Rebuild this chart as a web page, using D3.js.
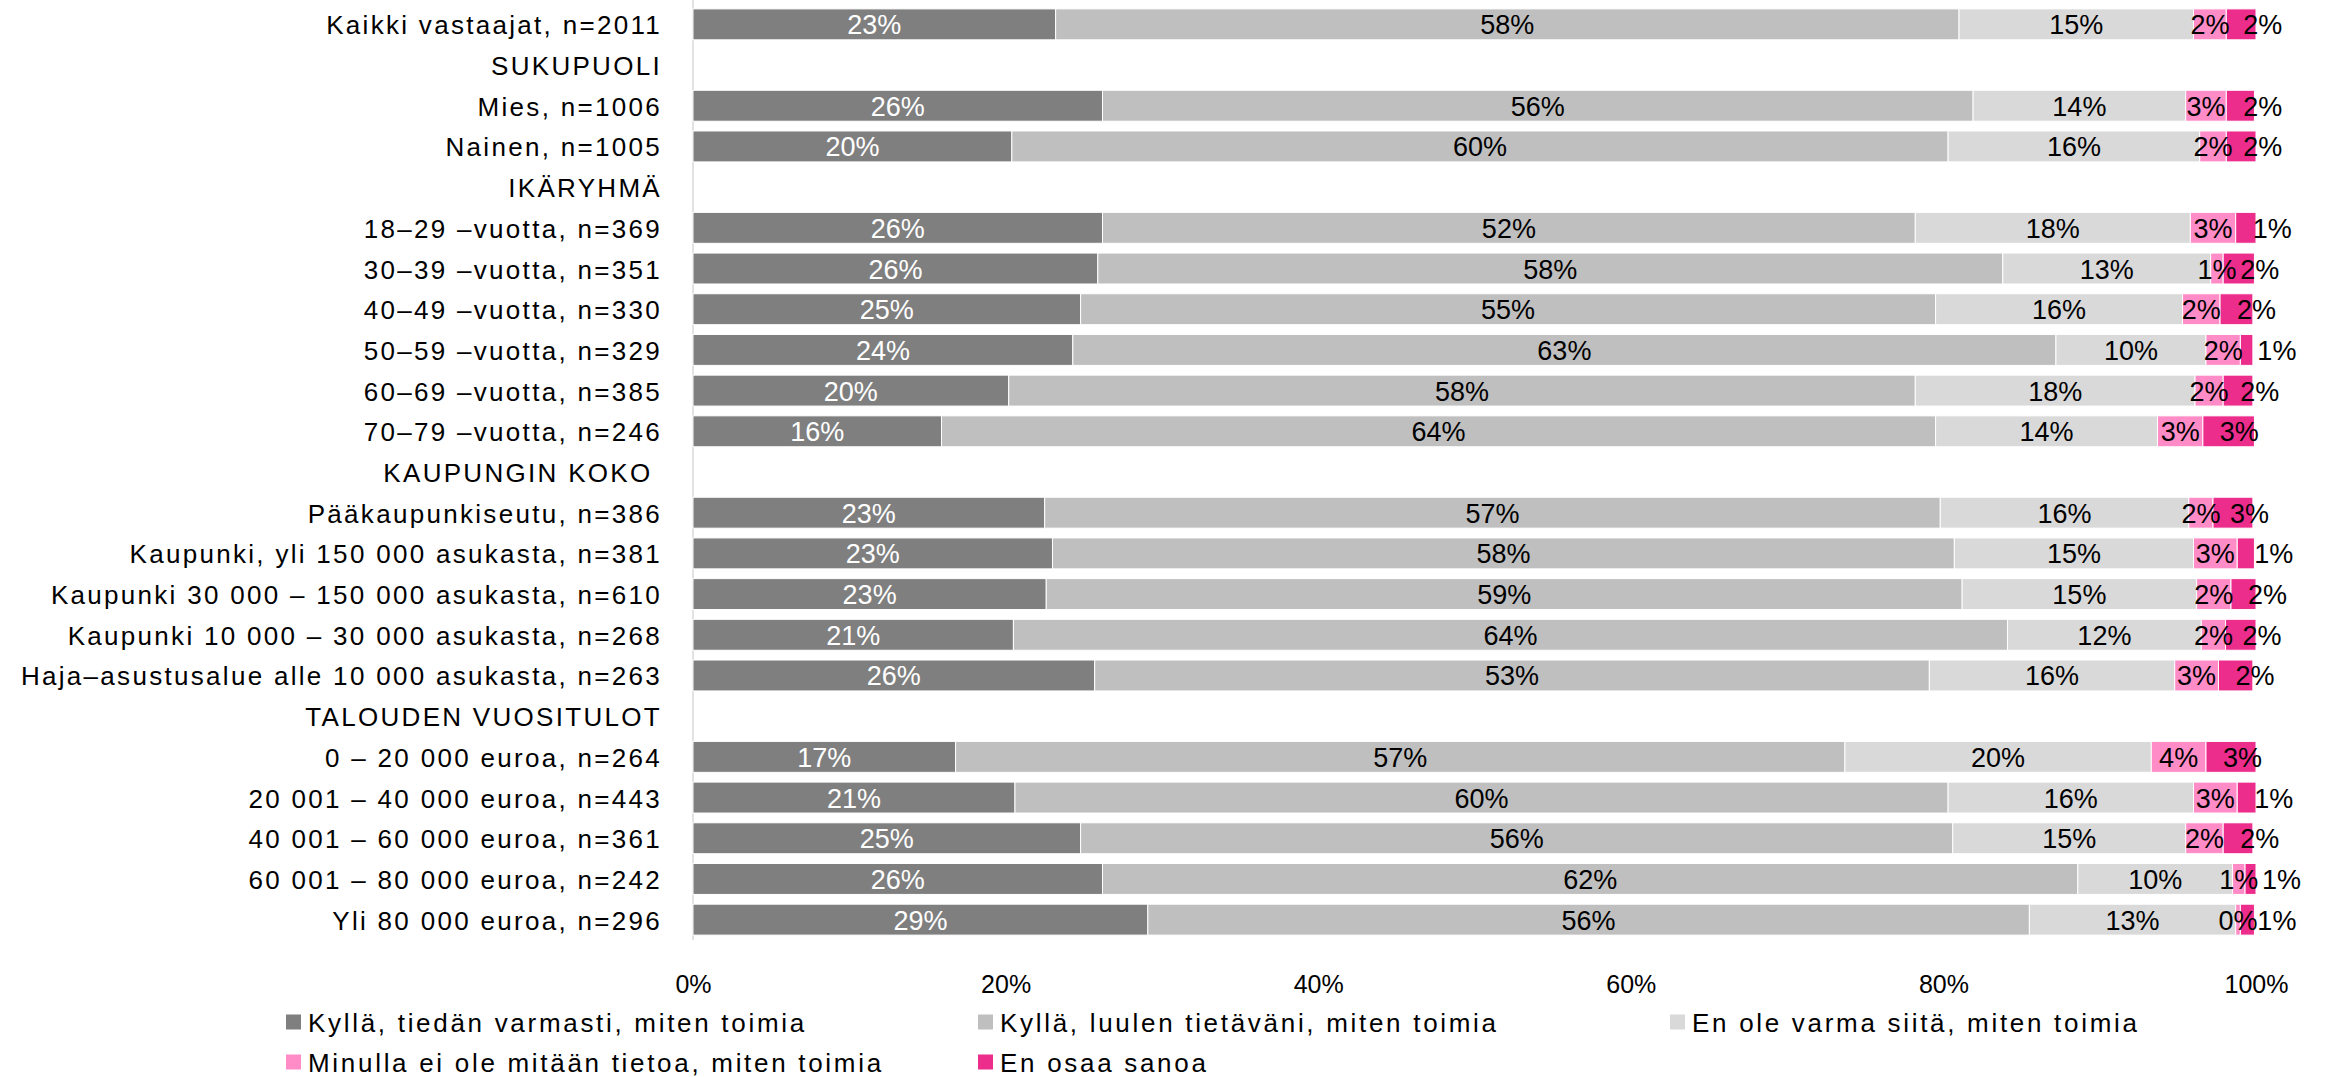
<!DOCTYPE html>
<html><head><meta charset="utf-8">
<script src="https://cdn.jsdelivr.net/npm/d3@7"></script>
<style>
body{margin:0;background:#fff}
svg text{font-family:"Liberation Sans",Arial,sans-serif;fill:#000}
</style>
</head><body>
<svg id="chart" width="2326" height="1077"></svg>
<script>
const categories = [
  "Kaikki vastaajat, n=2011",
  "SUKUPUOLI",
  "Mies, n=1006",
  "Nainen, n=1005",
  "IKÄRYHMÄ",
  "18–29 –vuotta, n=369",
  "30–39 –vuotta, n=351",
  "40–49 –vuotta, n=330",
  "50–59 –vuotta, n=329",
  "60–69 –vuotta, n=385",
  "70–79 –vuotta, n=246",
  "KAUPUNGIN KOKO ",
  "Pääkaupunkiseutu, n=386",
  "Kaupunki, yli 150 000 asukasta, n=381",
  "Kaupunki 30 000 – 150 000 asukasta, n=610",
  "Kaupunki 10 000 – 30 000 asukasta, n=268",
  "Haja–asustusalue alle 10 000 asukasta, n=263",
  "TALOUDEN VUOSITULOT",
  "0 – 20 000 euroa, n=264",
  "20 001 – 40 000 euroa, n=443",
  "40 001 – 60 000 euroa, n=361",
  "60 001 – 80 000 euroa, n=242",
  "Yli 80 000 euroa, n=296"
];
const seriesNames = [
  "Kyllä, tiedän varmasti, miten toimia",
  "Kyllä, luulen tietäväni, miten toimia",
  "En ole varma siitä, miten toimia",
  "Minulla ei ole mitään tietoa, miten toimia",
  "En osaa sanoa"
];
// values in %, null = section header row
const tiedanVarmasti = [23.2,null,26.2,20.4,null,26.2,25.9,24.8,24.3,20.2,15.9,null,22.5,23.0,22.6,20.5,25.7,null,16.8,20.6,24.8,26.2,29.1];
const luulenTietavani = [57.8,null,55.7,59.9,null,52.0,57.9,54.7,62.9,58.0,63.6,null,57.3,57.7,58.6,63.6,53.4,null,56.9,59.7,55.8,62.4,56.4];
const enOleVarma     = [15.0,null,13.6,16.1,null,17.6,13.3,15.8,9.6,17.9,14.2,null,15.9,15.3,15.0,12.4,15.7,null,19.6,15.7,14.9,9.9,13.2];
const eiTietoa       = [2.1,null,2.6,1.7,null,2.9,0.8,2.4,2.2,1.8,2.9,null,1.55,2.8,2.2,1.55,2.8,null,3.5,2.8,2.4,0.8,0.3];
const enOsaaSanoa    = [1.9,null,1.8,1.9,null,1.3,2.0,2.1,0.8,1.9,3.3,null,2.55,1.1,1.6,1.95,2.2,null,3.2,1.2,1.9,0.7,0.9];
const tickValues = [0,20,40,60,80,100];
const tickLabels = ["0%","20%","40%","60%","80%","100%"];
const colors = ["#7f7f7f","#bfbfbf","#d9d9d9","#ff8cc6","#ec2d8c"];

const seriesValues = [tiedanVarmasti, luulenTietavani, enOleVarma, eiTietoa, enOsaaSanoa];
const svg = d3.select("#chart");
const x = d3.scaleLinear().domain([0,100]).range([693,2256]);
const y = d3.scaleBand().domain(d3.range(categories.length)).range([4,940]).paddingInner(0.24).paddingOuter(0.12);
const bw = y.bandwidth();

const table = categories.map((c,i)=>{
  const o = {idx:i, cat:c, header: tiedanVarmasti[i]==null};
  seriesNames.forEach((k,j)=>{ o[k] = seriesValues[j][i] == null ? 0 : seriesValues[j][i]; });
  return o;
});
const rows = table.filter(d=>!d.header);
const stacked = d3.stack().keys(seriesNames)(rows);

// vertical axis line
svg.append("line").attr("x1",x(0)).attr("x2",x(0)).attr("y1",0).attr("y2",940)
  .attr("stroke","#d9d9d9").attr("stroke-width",1.5);

// bars
const layers = svg.append("g").selectAll("g").data(stacked).join("g")
  .attr("fill",(d,i)=>colors[i]);
layers.selectAll("rect").data(d=>d).join("rect")
  .attr("x",d=>x(d[0])).attr("width",d=>x(d[1])-x(d[0]))
  .attr("y",d=>y(d.data.idx)).attr("height",bw)
  .attr("stroke","#fff").attr("stroke-width",1);

// value labels
stacked.forEach((layer,j)=>{
  const key = seriesNames[j];
  svg.append("g").selectAll("text").data(layer).join("text")
    .attr("x",d=> j===4 ? x(d[0])+17 : (x(d[0])+x(d[1]))/2)
    .attr("y",d=>y(d.data.idx)+bw/2+1)
    .attr("text-anchor", j===4 ? "start" : "middle")
    .attr("dominant-baseline","central")
    .style("font-size","27px")
    .style("fill", j===0 ? "#fff" : "#000")
    .text(d=>Math.round(d.data[key]) + "%");
});

// category labels
svg.append("g").selectAll("text").data(table).join("text")
  .attr("x",662).attr("y",d=>y(d.idx)+bw/2+1)
  .attr("text-anchor","end").attr("dominant-baseline","central")
  .style("font-size","26px").style("letter-spacing","2.3px")
  .style("white-space","pre")
  .text(d=>d.cat);

// x axis ticks
const ax = svg.append("g").attr("transform","translate(0,972)")
  .call(d3.axisBottom(x).tickValues(tickValues).tickFormat((d,i)=>tickLabels[i]).tickSize(0).tickPadding(3));
ax.select(".domain").remove();
ax.selectAll("text").style("font-size","25px").style("font-family",null).attr("fill","#000");

// legend
const leg = svg.append("g").selectAll("g").data(seriesNames).join("g")
  .attr("transform",(d,i)=>`translate(${286 + (i%3)*692},${1022 + Math.floor(i/3)*40})`);
leg.append("rect").attr("x",0).attr("y",-7.5).attr("width",15).attr("height",15)
  .attr("fill",(d,i)=>colors[i]);
leg.append("text").attr("x",22).attr("y",1).attr("dominant-baseline","central")
  .style("font-size","26px").style("letter-spacing","2.7px").text(d=>d);
</script>
</body></html>
